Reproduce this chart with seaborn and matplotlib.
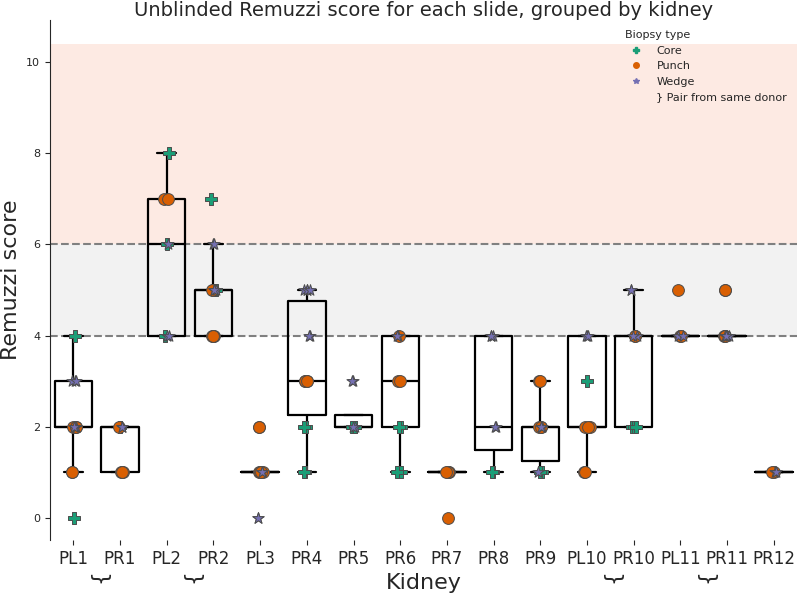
import numpy as np
import pandas as pd
import matplotlib
matplotlib.use("Agg")
import matplotlib.pyplot as plt
import matplotlib.transforms as mtransforms
from matplotlib.lines import Line2D
from matplotlib.patches import Patch
import seaborn as sns

# ============================================
# Data: Remuzzi score per slide, per kidney
# ============================================
kidneys = ['PL1', 'PR1', 'PL2', 'PR2', 'PL3', 'PR4', 'PR5', 'PR6',
           'PR7', 'PR8', 'PR9', 'PL10', 'PR10', 'PL11', 'PR11', 'PR12']

# scores for each kidney, and the biopsy type of each slide (C=Core, P=Punch, W=Wedge)
scores = [
    [0, 1, 1, 2, 2, 2, 2, 2, 2, 3, 3, 3, 4],
    [1, 1, 1, 2, 2, 2, 2],
    [4, 4, 4, 6, 6, 7, 7, 8],
    [4, 4, 4, 4, 5, 5, 5, 5, 5, 5, 6, 6, 7],
    [0, 0, 1, 1, 1, 1, 1, 1, 2, 2],
    [1, 1, 2, 2, 3, 3, 3, 3, 4, 4, 5, 5, 5, 5],
    [2, 2, 2, 2, 2, 2, 3, 3],
    [1, 1, 2, 2, 3, 3, 4, 4, 4],
    [0, 1, 1, 1, 1],
    [1, 1, 2, 2, 4, 4, 4],
    [1, 1, 1, 2, 2, 2, 2, 2, 3, 3],
    [1, 1, 2, 2, 2, 3, 4, 4, 4],
    [2, 2, 2, 4, 4, 4, 4, 5, 5],
    [4, 4, 4, 4, 5],
    [4, 4, 4, 4, 4, 4, 4, 5, 5],
    [1, 1, 1, 1],
]
types = [
    "CPPWPPWPWWWWC",
    "PPPCWWP",
    "CWWCWPPC",
    "PPPPPWWCPWWWC",
    "WWPPWPWPPP",
    "CCCCPPPPWWWWWW",
    "WCCWCCWW",
    "CCCCPPWPW",
    "PPPPP",
    "CCWWWWW",
    "CWCPPWPWPP",
    "PPPPPCWWW",
    "CCCPWPWWW",
    "PWWPP",
    "PWWPWPWPP",
    "PWPW",
]

type_names = {'C': 'Core', 'P': 'Punch', 'W': 'Wedge'}
biopsy_types = ['Core', 'Punch', 'Wedge']
markers = {'Core': 'P', 'Punch': 'o', 'Wedge': '*'}
pal = dict(zip(biopsy_types, sns.color_palette('Dark2', 3)))

# pairs of kidneys from the same donor
pairs = [(0, 1), (2, 3), (11, 12), (13, 14)]

rows = []
for k, sc, ty in zip(kidneys, scores, types):
    for s, t in zip(sc, ty):
        rows.append({'Kidney': k, 'Score': s, 'Biopsy': type_names[t]})
df = pd.DataFrame(rows)

# ============================================
# Plot
# ============================================
sns.set_style('ticks')
plt.rcParams['font.family'] = ['DejaVu Sans']
np.random.seed(3)

fig = plt.figure(figsize=(8, 5.97), dpi=100)
ax = fig.add_axes([0.0625, 0.0955, 0.934, 0.871])

ax.axhspan(6, 10.4, color='#fdeae3', zorder=0, lw=0)
ax.axhspan(4, 6, color='#f2f2f2', zorder=0, lw=0)
ax.axhline(4, color='gray', ls='--', lw=1.5, zorder=1)
ax.axhline(6, color='gray', ls='--', lw=1.5, zorder=1)

sns.boxplot(data=df, x='Kidney', y='Score', order=kidneys, showfliers=False,
            fill=False, color='black', linewidth=1.6, width=0.8, ax=ax)

for b in biopsy_types:
    sub = df[df['Biopsy'] == b]
    sns.stripplot(data=sub, x='Kidney', y='Score', order=kidneys, marker=markers[b],
                  color=pal[b], size=8.5, jitter=0.07, edgecolor='0.3', linewidth=0.7,
                  zorder=3, ax=ax)

ax.set_xlim(-0.5, 15.5)
ax.set_ylim(-0.48, 10.92)
ax.set_yticks([0, 2, 4, 6, 8, 10])
ax.tick_params(axis='y', labelsize=8)
ax.tick_params(axis='x', labelsize=12)
ax.set_xlabel('Kidney', fontsize=16)
ax.set_ylabel('Remuzzi score', fontsize=16)
ax.set_title('Unblinded Remuzzi score for each slide, grouped by kidney', fontsize=14, pad=0.5)
sns.despine(ax=ax, bottom=True)

# braces under pairs from the same donor
trans = mtransforms.blended_transform_factory(ax.transData, ax.transAxes)
for a, b in pairs:
    ax.text((a + b) / 2, -0.077, '}', rotation=-90, transform=trans,
            ha='center', va='center', fontsize=16)

handles = [Line2D([], [], marker=markers[b], color=pal[b], ls='', markersize=4)
           for b in biopsy_types]
handles.append(Patch(facecolor='none', edgecolor='none'))
labels = biopsy_types + ['} Pair from same donor']
ax.legend(handles, labels, title='Biopsy type', loc='upper right', frameon=False,
          fontsize=8, title_fontsize=8, alignment='left')

plt.savefig('out.png', dpi=100)
